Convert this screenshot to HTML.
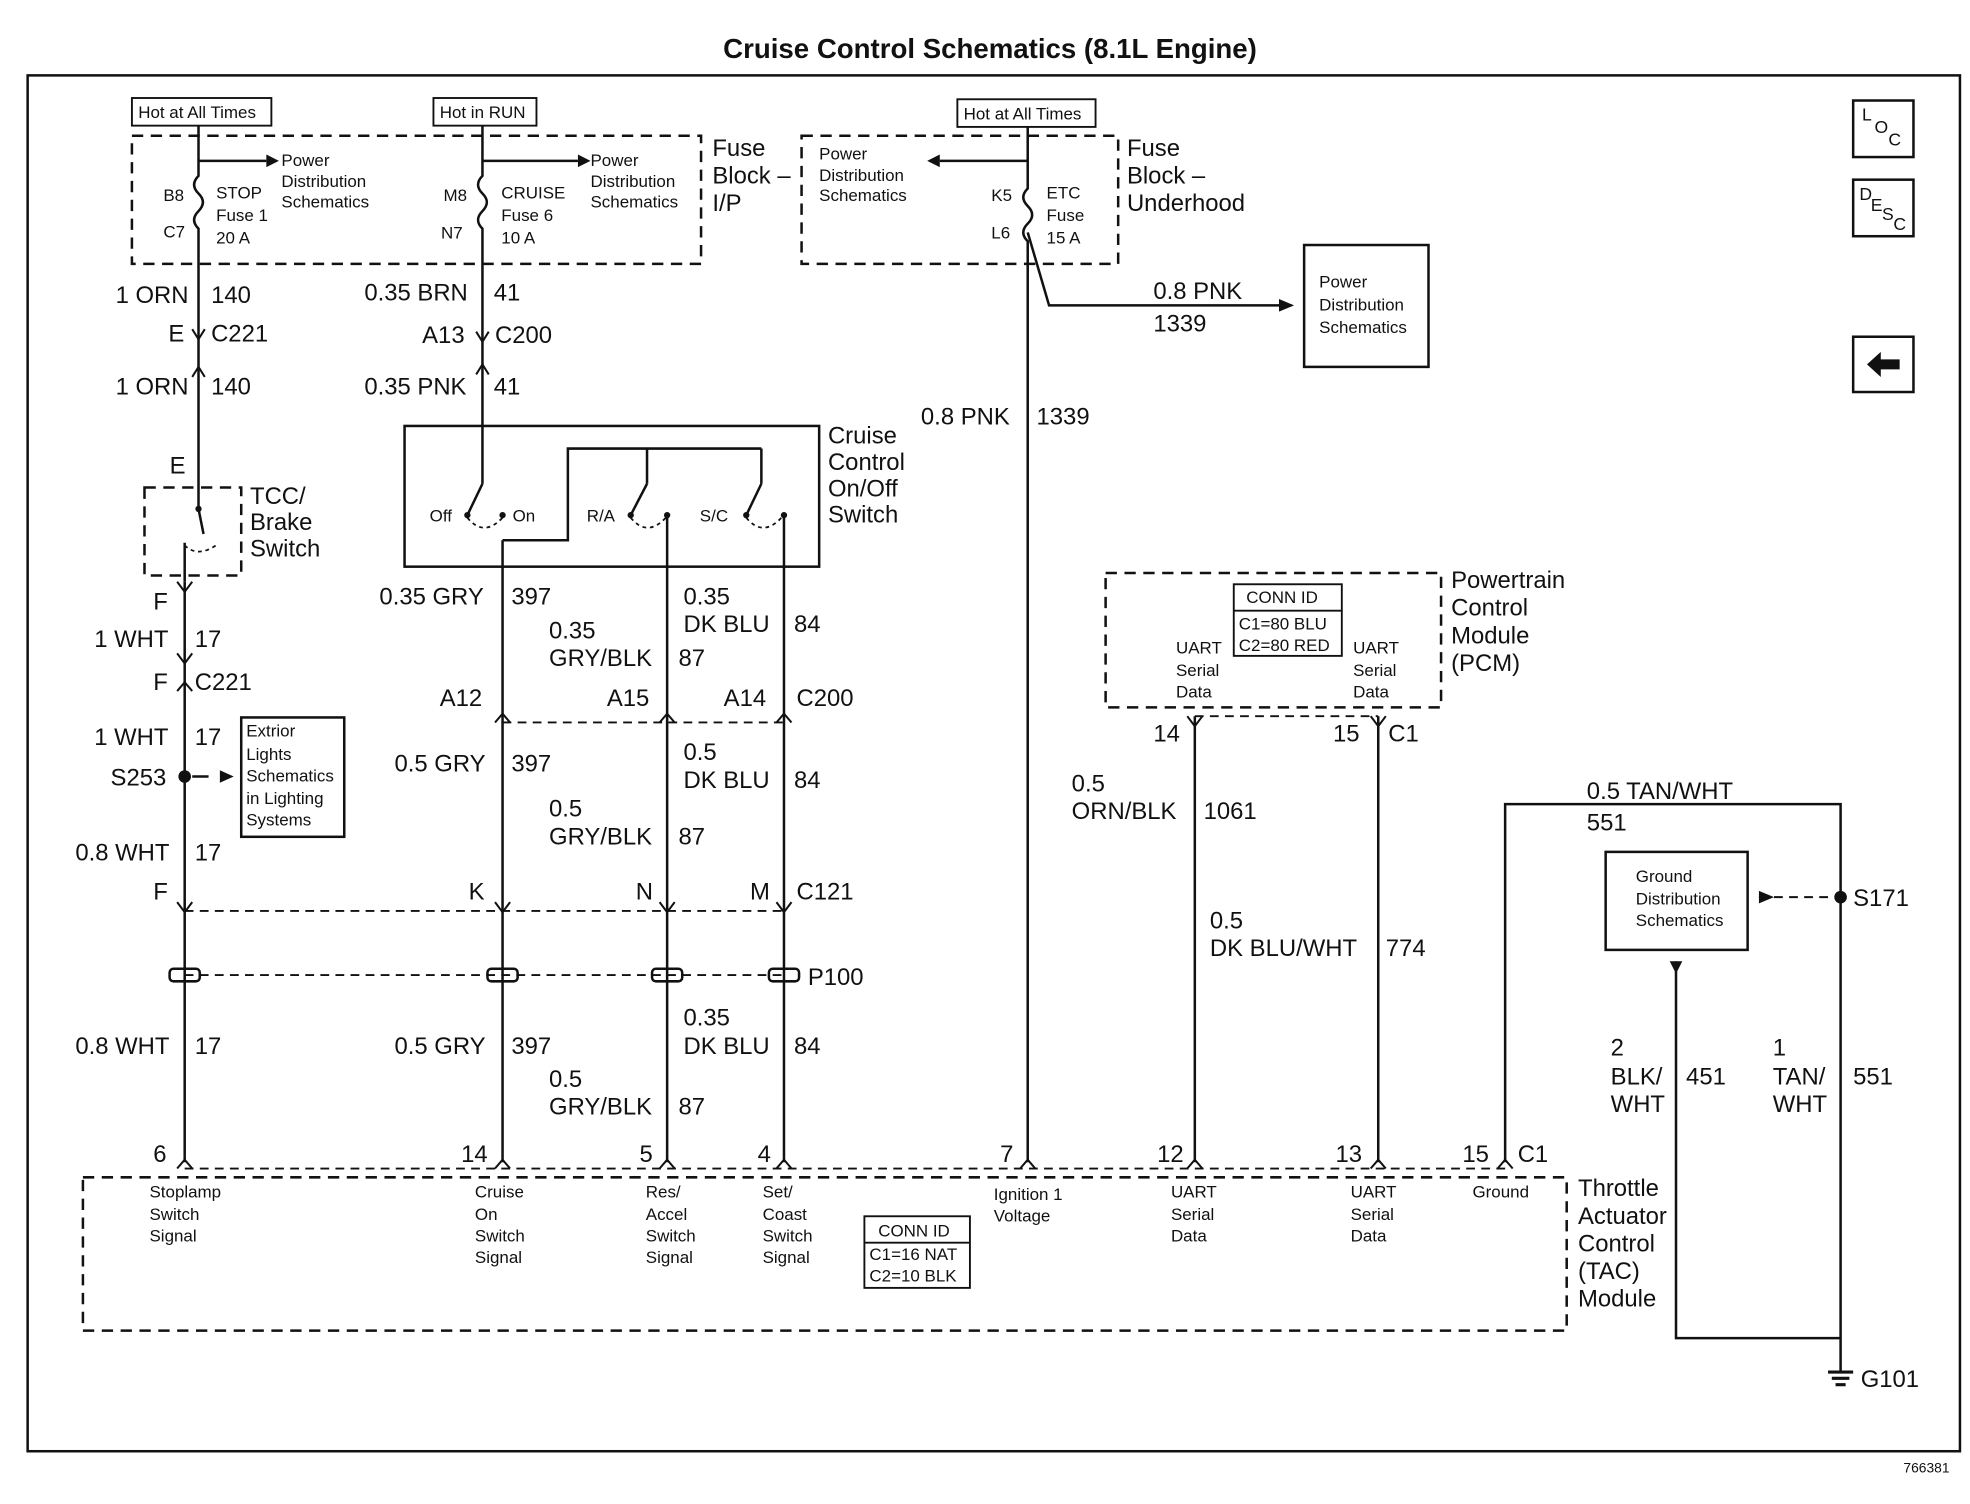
<!DOCTYPE html>
<html><head><meta charset="utf-8"><style>
html,body{margin:0;padding:0;background:#fff;}
svg{display:block;}
text{font-family:"Liberation Sans",Arial,sans-serif;fill:#111;}
.w{font-size:19px;}
.s{font-size:13.5px;}
.m{font-size:19px;}
</style></head><body>
<svg width="1970" height="1504" viewBox="0 0 1568 1197" preserveAspectRatio="none" xmlns="http://www.w3.org/2000/svg">
<rect width="1568" height="1197" fill="#fff"/>
<g stroke="#111" fill="none" stroke-width="2">
<rect x="22" y="60" width="1538" height="1095"/>
<rect x="105" y="108" width="453" height="102" stroke-dasharray="9,6"/>
<rect x="638" y="108" width="252" height="102" stroke-dasharray="9,6"/>
<rect x="105" y="78" width="111" height="22" stroke-width="1.5"/>
<rect x="345" y="78" width="82" height="22" stroke-width="1.5"/>
<rect x="762" y="79" width="110" height="22" stroke-width="1.5"/>
<rect x="322" y="339" width="330" height="112"/>
<rect x="115" y="388" width="77" height="70" stroke-dasharray="9,6"/>
<rect x="880" y="456" width="267" height="107" stroke-dasharray="9,6"/>
<rect x="982" y="465" width="86" height="57" stroke-width="1.5"/>
<line x1="982" y1="486" x2="1068" y2="486" stroke-width="1.5"/>
<rect x="1038" y="195" width="99" height="97"/>
<rect x="1278" y="678" width="113" height="78"/>
<rect x="192" y="571" width="82" height="95"/>
<rect x="66" y="937" width="1181" height="122" stroke-dasharray="9,6"/>
<rect x="688" y="968" width="84" height="57" stroke-width="1.5"/>
<line x1="688" y1="989" x2="772" y2="989" stroke-width="1.5"/>
<rect x="1475" y="80" width="48" height="45"/>
<rect x="1475" y="143" width="48" height="45"/>
<rect x="1475" y="268" width="48" height="44"/>
<path d="M158 100 V140 q-7 7 0 14 q7 7 0 14 q-7 7 0 14 V388"/>
<path d="M384 100 V140 q-7 7 0 14 q7 7 0 14 q-7 7 0 14 V385"/>
<path d="M818 101 V150 q-7 7 0 14 q7 7 0 14 q-7 7 0 14 V925"/>
<path d="M818 185 L835 243 H1028"/>
<path d="M158 128 H212 M384 128 H460 M818 128 H748"/>
<path d="M147 463 V925 M400 430 V925 M531 410 V925 M624 410 V925 M951 570 V925 M1097 570 V925 M1198 925 V640 H1465 V1092 M1334 765 V1065 H1465"/>
<path d="M400 430 H452 V357 H606 M515 357 V385 M606 357 V385"/>
<path d="M158 388 V405 L162 425 M147 432 V463"/>
<path d="M384 385 L372 410 M515 385 L502 410 M606 385 L594 410"/>
<path d="M372 412 q13 16 28 0 M502 412 q13 16 28 0 M594 412 q13 16 28 0 M147 434 q10 10 25 0" stroke-dasharray="3,3" stroke-width="1.4"/>
<path d="M400 575 H624 M147 725 H624 M147 776 H624 M147 930 H1198 M951 570 H1097" stroke-dasharray="7,5" stroke-width="1.5"/>
<path d="M1400 714 H1460" stroke-dasharray="7,5" stroke-width="1.5"/>
<path d="M153 262 l5 8 l5 -8 M153 300 l5 -8 l5 8 M379 264 l5 8 l5 -8 M379 298 l5 -8 l5 8 M141 463 l6 8 l6 -8 M141 550 l6 -7 l6 7 M141 520 l6 8 l6 -8 M394 575 l6 -7 l6 7 M525 575 l6 -7 l6 7 M618 575 l6 -7 l6 7 M141 718 l6 8 l6 -8 M394 718 l6 8 l6 -8 M525 718 l6 8 l6 -8 M618 718 l6 8 l6 -8 M141 930 l6 -7 l6 7 M394 930 l6 -7 l6 7 M525 930 l6 -7 l6 7 M618 930 l6 -7 l6 7 M812 930 l6 -7 l6 7 M945 930 l6 -7 l6 7 M1091 930 l6 -7 l6 7 M1192 930 l6 -7 l6 7 M945 570 l6 8 l6 -8 M1091 570 l6 8 l6 -8" stroke-width="1.6"/>
<g stroke-width="2"><rect x="135" y="771" width="24" height="10" rx="3"/><rect x="388" y="771" width="24" height="10" rx="3"/><rect x="519" y="771" width="24" height="10" rx="3"/><rect x="612" y="771" width="24" height="10" rx="3"/></g>
</g>
<g fill="#111">
<polygon points="212,123 222,128 212,133"/><polygon points="460,123 470,128 460,133"/><polygon points="748,123 738,128 748,133"/>
<polygon points="1018,238 1030,243 1018,248"/>
<circle cx="147" cy="618" r="5"/><path d="M153 618 H166" stroke="#111" stroke-width="2"/><polygon points="175,613 186,618 175,623"/>
<circle cx="1465" cy="714" r="5"/><polygon points="1400,709 1412,714 1400,719"/>
<polygon points="1329,765 1339,765 1334,775"/>
<circle cx="372" cy="410" r="2.5"/><circle cx="400" cy="410" r="2.5"/><circle cx="502" cy="410" r="2.5"/><circle cx="531" cy="410" r="2.5"/><circle cx="594" cy="410" r="2.5"/><circle cx="624" cy="410" r="2.5"/><circle cx="158" cy="405" r="2.5"/>
<path d="M1455 1092 H1475 M1458 1097 H1472 M1461 1102 H1469" stroke="#111" stroke-width="2.5"/>
<polygon points="1486,290 1497,280 1497,286 1512,286 1512,294 1497,294 1497,300"/>
</g>
<text x="788" y="46" text-anchor="middle" font-size="22" font-weight="bold">Cruise Control Schematics (8.1L Engine)</text>
<text x="1515" y="1172" font-size="11">766381</text>
<g class="s">
<text x="110" y="94">Hot at All Times</text><text x="350" y="94">Hot in RUN</text><text x="767" y="95">Hot at All Times</text>
<text x="224" y="132">Power</text><text x="224" y="149">Distribution</text><text x="224" y="165">Schematics</text>
<text x="470" y="132">Power</text><text x="470" y="149">Distribution</text><text x="470" y="165">Schematics</text>
<text x="652" y="127">Power</text><text x="652" y="144">Distribution</text><text x="652" y="160">Schematics</text>
<text x="130" y="160">B8</text><text x="130" y="189">C7</text><text x="172" y="158">STOP</text><text x="172" y="176">Fuse 1</text><text x="172" y="194">20 A</text>
<text x="353" y="160">M8</text><text x="351" y="190">N7</text><text x="399" y="158">CRUISE</text><text x="399" y="176">Fuse 6</text><text x="399" y="194">10 A</text>
<text x="789" y="160">K5</text><text x="789" y="190">L6</text><text x="833" y="158">ETC</text><text x="833" y="176">Fuse</text><text x="833" y="194">15 A</text>
<text x="1050" y="229">Power</text><text x="1050" y="247">Distribution</text><text x="1050" y="265">Schematics</text>
<text x="342" y="415">Off</text><text x="408" y="415">On</text><text x="467" y="415">R/A</text><text x="557" y="415">S/C</text>
<text x="196" y="586">Extrior</text><text x="196" y="605">Lights</text><text x="196" y="622">Schematics</text><text x="196" y="640">in Lighting</text><text x="196" y="657">Systems</text>
<text x="992" y="480">CONN ID</text><text x="986" y="501">C1=80 BLU</text><text x="986" y="518">C2=80 RED</text>
<text x="936" y="520">UART</text><text x="936" y="538">Serial</text><text x="936" y="555">Data</text>
<text x="1077" y="520">UART</text><text x="1077" y="538">Serial</text><text x="1077" y="555">Data</text>
<text x="1302" y="702">Ground</text><text x="1302" y="720">Distribution</text><text x="1302" y="737">Schematics</text>
<text x="119" y="953">Stoplamp</text><text x="119" y="971">Switch</text><text x="119" y="988">Signal</text>
<text x="378" y="953">Cruise</text><text x="378" y="971">On</text><text x="378" y="988">Switch</text><text x="378" y="1005">Signal</text>
<text x="514" y="953">Res/</text><text x="514" y="971">Accel</text><text x="514" y="988">Switch</text><text x="514" y="1005">Signal</text>
<text x="607" y="953">Set/</text><text x="607" y="971">Coast</text><text x="607" y="988">Switch</text><text x="607" y="1005">Signal</text>
<text x="791" y="955">Ignition 1</text><text x="791" y="972">Voltage</text>
<text x="932" y="953">UART</text><text x="932" y="971">Serial</text><text x="932" y="988">Data</text>
<text x="1075" y="953">UART</text><text x="1075" y="971">Serial</text><text x="1075" y="988">Data</text>
<text x="1172" y="953">Ground</text>
<text x="699" y="984">CONN ID</text><text x="692" y="1003">C1=16 NAT</text><text x="692" y="1020">C2=10 BLK</text>
<text x="1482" y="96" font-size="14">L</text><text x="1492" y="106" font-size="14">O</text><text x="1503" y="116" font-size="14">C</text>
<text x="1480" y="159" font-size="14">D</text><text x="1489" y="168" font-size="14">E</text><text x="1498" y="175" font-size="14">S</text><text x="1507" y="183" font-size="14">C</text>
</g>
<g class="m">
<text x="567" y="124">Fuse</text><text x="567" y="146">Block –</text><text x="567" y="168">I/P</text>
<text x="897" y="124">Fuse</text><text x="897" y="146">Block –</text><text x="897" y="168">Underhood</text>
<text x="659" y="353">Cruise</text><text x="659" y="374">Control</text><text x="659" y="395">On/Off</text><text x="659" y="416">Switch</text>
<text x="199" y="401">TCC/</text><text x="199" y="422">Brake</text><text x="199" y="443">Switch</text>
<text x="1155" y="468">Powertrain</text><text x="1155" y="490">Control</text><text x="1155" y="512">Module</text><text x="1155" y="534">(PCM)</text>
<text x="1256" y="952">Throttle</text><text x="1256" y="974">Actuator</text><text x="1256" y="996">Control</text><text x="1256" y="1018">(TAC)</text><text x="1256" y="1040">Module</text>
</g>
<g class="w">
<text x="92" y="241">1 ORN</text><text x="168" y="241">140</text>
<text x="134" y="272">E</text><text x="168" y="272">C221</text>
<text x="92" y="314">1 ORN</text><text x="168" y="314">140</text>
<text x="135" y="377">E</text>
<text x="290" y="239">0.35 BRN</text><text x="393" y="239">41</text>
<text x="336" y="273">A13</text><text x="394" y="273">C200</text>
<text x="290" y="314">0.35 PNK</text><text x="393" y="314">41</text>
<text x="918" y="238">0.8 PNK</text><text x="918" y="264">1339</text>
<text x="733" y="338">0.8 PNK</text><text x="825" y="338">1339</text>
<text x="122" y="485">F</text>
<text x="75" y="515">1 WHT</text><text x="155" y="515">17</text>
<text x="122" y="549">F</text><text x="155" y="549">C221</text>
<text x="75" y="593">1 WHT</text><text x="155" y="593">17</text>
<text x="88" y="625">S253</text>
<text x="60" y="685">0.8 WHT</text><text x="155" y="685">17</text>
<text x="122" y="716">F</text>
<text x="302" y="481">0.35 GRY</text><text x="407" y="481">397</text>
<text x="437" y="508">0.35</text><text x="437" y="530">GRY/BLK</text><text x="540" y="530">87</text>
<text x="544" y="481">0.35</text><text x="544" y="503">DK BLU</text><text x="632" y="503">84</text>
<text x="350" y="562">A12</text><text x="483" y="562">A15</text><text x="576" y="562">A14</text><text x="634" y="562">C200</text>
<text x="314" y="614">0.5 GRY</text><text x="407" y="614">397</text>
<text x="544" y="605">0.5</text><text x="544" y="627">DK BLU</text><text x="632" y="627">84</text>
<text x="437" y="650">0.5</text><text x="437" y="672">GRY/BLK</text><text x="540" y="672">87</text>
<text x="373" y="716">K</text><text x="506" y="716">N</text><text x="597" y="716">M</text><text x="634" y="716">C121</text>
<text x="643" y="784">P100</text>
<text x="60" y="839">0.8 WHT</text><text x="155" y="839">17</text>
<text x="314" y="839">0.5 GRY</text><text x="407" y="839">397</text>
<text x="544" y="816">0.35</text><text x="544" y="839">DK BLU</text><text x="632" y="839">84</text>
<text x="437" y="865">0.5</text><text x="437" y="887">GRY/BLK</text><text x="540" y="887">87</text>
<text x="122" y="925">6</text><text x="367" y="925">14</text><text x="509" y="925">5</text><text x="603" y="925">4</text><text x="796" y="925">7</text><text x="921" y="925">12</text><text x="1063" y="925">13</text><text x="1164" y="925">15</text><text x="1208" y="925">C1</text>
<text x="918" y="590">14</text><text x="1061" y="590">15</text><text x="1105" y="590">C1</text>
<text x="853" y="630">0.5</text><text x="853" y="652">ORN/BLK</text><text x="958" y="652">1061</text>
<text x="963" y="739">0.5</text><text x="963" y="761">DK BLU/WHT</text><text x="1103" y="761">774</text>
<text x="1263" y="636">0.5 TAN/WHT</text><text x="1263" y="661">551</text>
<text x="1475" y="721">S171</text>
<text x="1282" y="840">2</text><text x="1282" y="863">BLK/</text><text x="1282" y="885">WHT</text><text x="1342" y="863">451</text>
<text x="1411" y="840">1</text><text x="1411" y="863">TAN/</text><text x="1411" y="885">WHT</text><text x="1475" y="863">551</text>
<text x="1481" y="1104">G101</text>
</g>
</svg>
</body></html>
